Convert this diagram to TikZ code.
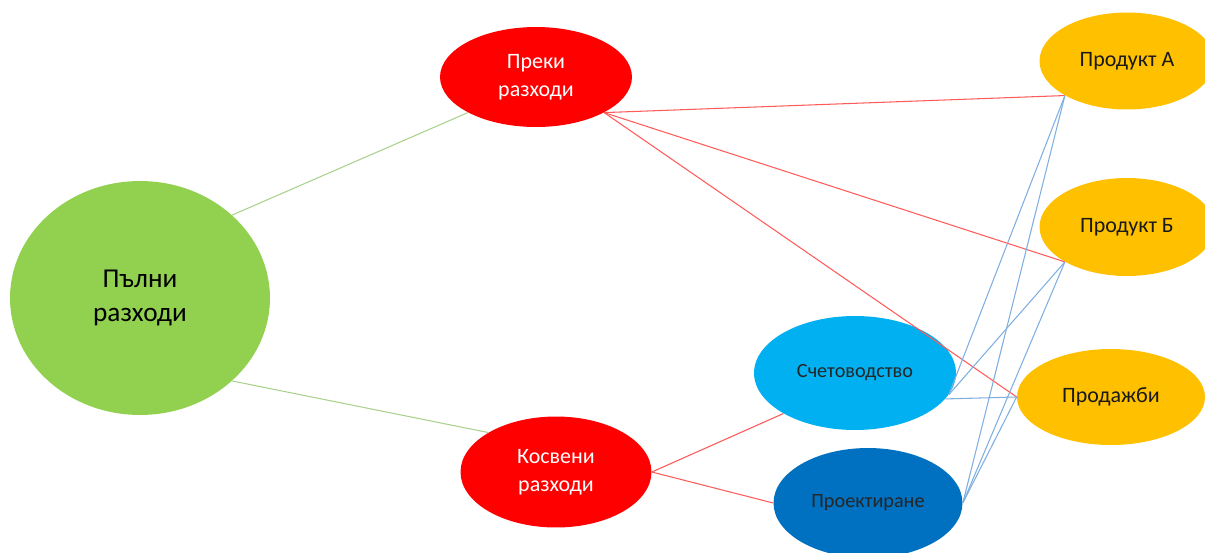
\documentclass[tikz,border=0pt]{standalone}
\usepackage{fontspec}
\setmainfont{Carlito}
\usepackage{xcolor}
\usetikzlibrary{shapes.geometric}

\definecolor{totgreen}{HTML}{92D050}
\definecolor{costred}{HTML}{FF0000}
\definecolor{deptlight}{HTML}{00B0F0}
\definecolor{deptdark}{HTML}{0070C0}
\definecolor{prodgold}{HTML}{FFC000}
\definecolor{linkgreen}{HTML}{A9D18E}
\definecolor{linkred}{HTML}{FF5B5B}
\definecolor{linkblue}{HTML}{7FAEE0}

\begin{document}
\begin{tikzpicture}[x=0.02cm,y=-0.02cm,
blob/.style={draw=none,ellipse,inner sep=0pt,align=center},
total/.style={blob,fill=totgreen,text=black,font=\fontsize{15.5}{19}\selectfont},
cost/.style={blob,fill=costred,text=white,font=\fontsize{12.5}{16}\selectfont},
dept/.style={blob,text=black!85,font=\fontsize{11.5}{14}\selectfont},
prod/.style={blob,fill=prodgold,text=black!90,font=\fontsize{12.5}{15}\selectfont},
glink/.style={linkgreen,line width=0.6pt},
rlink/.style={linkred,line width=0.6pt},
blink/.style={linkblue,line width=0.6pt}]
\useasboundingbox (0,0) rectangle (1205,552);

% ellipses
\node (full) [total,minimum width=5.2cm,minimum height=4.68cm] at (140,298) {Пълни\\разходи};
\node (direct) [cost,minimum width=3.84cm,minimum height=2cm] at (536,77) {Преки\\разходи};
\node (indirect) [cost,minimum width=3.82cm,minimum height=2.22cm] at (556,472) {Косвени\\разходи};
\node (acct) [dept,fill=deptlight,minimum width=4.04cm,minimum height=2.28cm] at (855,373) {Счетоводство};
\node (design) [dept,fill=deptdark,minimum width=3.78cm,minimum height=2.2cm] at (868,503) {Проектиране};
\node (proda) [prod,minimum width=3.5cm,minimum height=1.94cm] at (1127,61) {Продукт А};
\node (prodb) [prod,minimum width=3.5cm,minimum height=1.96cm] at (1127,227) {Продукт Б};
\node (sales) [prod,minimum width=3.76cm,minimum height=1.92cm] at (1111,397) {Продажби};

% links
\draw [glink] (full.north east) -- (direct.south west);
\draw [glink] (full.south east) -- (indirect.north west);
\draw [rlink] (direct.south east) -- (proda.south west);
\draw [rlink] (direct.south east) -- (prodb.south west);
\draw [rlink] (direct.south east) -- (sales.west);
\draw [rlink] (indirect.east) -- (acct.south west);
\draw [rlink] (indirect.east) -- (design.west);
\foreach \p in {proda.south west,prodb.south west} {
  \draw [blink] (acct.-13) -- (\p);
}
\draw [blink] (acct.-16) -- (sales.west);
\foreach \p in {proda.south west,prodb.south west,sales.west} {
  \draw [blink] (design.east) -- (\p);
}
\end{tikzpicture}
\end{document}
